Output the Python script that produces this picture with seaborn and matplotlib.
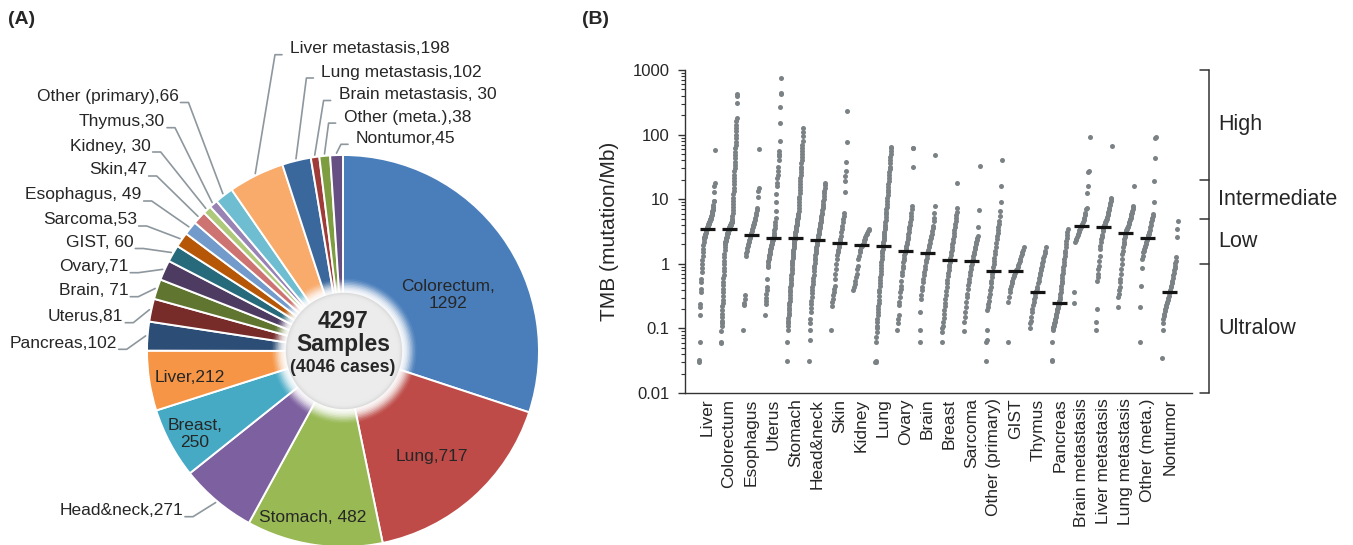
import numpy as np
import pandas as pd
import seaborn as sns
import matplotlib.pyplot as plt
from matplotlib.patches import Circle
from matplotlib.transforms import blended_transform_factory
from matplotlib.ticker import FixedLocator, FuncFormatter, LogLocator, NullFormatter

# ---------------- Panel A: samples per organ ----------------
pie_labels = ["Colorectum", "Lung", "Stomach", "Head&neck", "Breast", "Liver", "Pancreas",
              "Uterus", "Brain", "Ovary", "GIST", "Sarcoma", "Esophagus", "Skin", "Kidney",
              "Thymus", "Other (primary)", "Liver metastasis", "Lung metastasis",
              "Brain metastasis", "Other (meta.)", "Nontumor"]
pie_counts = [1292, 717, 482, 271, 250, 212, 102, 81, 71, 71, 60, 53, 49, 47, 30, 30, 66,
              198, 102, 30, 38, 45]
pie_colors = ["#4A7EBB", "#BE4B48", "#98B954", "#7D60A0", "#46AAC5", "#F69546", "#2C4D75",
              "#772C2A", "#5F7530", "#4D3B62", "#276A7C", "#B65708", "#729ACA", "#CD7371",
              "#AFC97A", "#9983B5", "#6FBDD1", "#F9AB6B", "#3A679C", "#9F3B38", "#7E9C40",
              "#664F83"]
total_samples = 4297
total_cases = 4046

# ---------------- Panel B: TMB per organ ----------------
tmb_cats = ["Liver", "Colorectum", "Esophagus", "Uterus", "Stomach", "Head&neck", "Skin",
            "Kidney", "Lung", "Ovary", "Brain", "Breast", "Sarcoma", "Other (primary)", "GIST",
            "Thymus", "Pancreas", "Brain metastasis", "Liver metastasis", "Lung metastasis",
            "Other (meta.)", "Nontumor"]
tmb_medians = [3.5, 3.4, 2.8, 2.5, 2.55, 2.35, 2.1, 1.95, 1.87, 1.6, 1.45, 1.15, 1.1, 0.78,
               0.77, 0.37, 0.25, 3.8, 3.65, 3.0, 2.55, 0.37]

tmb_liver = [0.03, 0.032, 0.062, 0.16, 0.215, 0.24, 0.37, 0.41, 0.52, 0.59, 0.74,
             0.85, 1.0, 1.15, 1.3, 1.5, 1.7, 1.95, 2.2, 2.4, 2.48, 2.56, 2.64, 2.72,
             2.8, 2.9, 3.0, 3.1, 3.2, 3.3, 3.4, 3.5, 3.6, 3.7, 3.8, 3.9, 4.0, 4.1,
             4.2, 4.3, 4.4, 4.5, 4.6, 4.7, 4.8, 4.9, 5.0, 5.15, 5.3, 5.45, 5.6, 5.8,
             6.0, 6.25, 6.5, 6.8, 7.1, 7.5, 8.0, 9.3, 9.5, 13, 16, 18, 57]
tmb_colorectum = [0.06, 0.062, 0.09, 0.11, 0.12,
                  0.13, 0.15, 0.17, 0.19, 0.22, 0.25, 0.28, 0.32, 0.36, 0.41, 0.47, 0.53,
                  0.6, 0.68, 0.77, 0.87, 1.0, 1.12, 1.27, 1.43, 1.62, 1.8,
                  2.0, 2.05, 2.1, 2.15, 2.2, 2.25, 2.3, 2.35, 2.4, 2.45, 2.5, 2.55, 2.6,
                  2.65, 2.7, 2.75, 2.8, 2.85, 2.9, 2.95, 3.0, 3.05, 3.1, 3.15, 3.2, 3.25,
                  3.3, 3.35, 3.4, 3.45, 3.5, 3.55, 3.6, 3.65, 3.7, 3.75, 3.8, 3.85, 3.9,
                  3.95, 4.0, 4.05, 4.1, 4.15, 4.2, 4.25, 4.3, 4.35, 4.4, 4.45, 4.5, 4.6,
                  4.7, 4.8, 5.0, 5.5, 6.1, 6.8, 7.6, 8.5, 9.5, 10.6, 12, 13.5, 15, 17, 19,
                  21.5, 24, 27, 30, 34, 38, 43, 48, 54, 61, 69, 78, 88, 100, 112, 126, 142,
                  160, 180, 310, 400, 420]
tmb_esophagus = [0.094, 0.23, 0.25, 0.29, 0.33, 1.3, 1.45, 1.6, 1.75, 1.9, 2.05, 2.2, 2.35,
                 2.5, 2.65, 2.8, 3.0, 3.2, 3.45, 3.7, 3.95, 4.2, 4.5, 4.8, 5.2, 5.6, 6.1,
                 6.7, 7.3, 11, 13.5, 15, 60]
tmb_uterus = [0.16, 0.24, 0.27, 0.3, 0.34, 0.39, 0.44, 0.59,
              0.9, 0.97, 1.05, 1.12, 1.2, 1.28, 1.36, 1.44, 1.52, 1.6, 1.68, 1.76, 1.84,
              1.92, 2.0, 2.08, 2.16, 2.24, 2.32, 2.4, 2.5, 2.6, 2.8, 3.0, 3.3, 3.6, 4.0,
              4.5, 5.2, 6.6, 8.9, 12, 16, 18, 21, 24, 27, 32, 41, 46, 50, 55, 79, 150,
              270, 420, 440, 740]
tmb_stomach = [0.031, 0.062, 0.094,
               0.11, 0.12, 0.13, 0.145, 0.16, 0.175, 0.19, 0.21, 0.23, 0.25, 0.27, 0.3,
               0.33, 0.36, 0.39, 0.43, 0.47, 0.51, 0.56, 0.61, 0.67, 0.73, 0.8, 0.87,
               0.95, 1.03, 1.12, 1.22, 1.32, 1.42, 1.52, 1.63, 1.75, 1.87, 2.0, 2.1, 2.2,
               2.3, 2.4, 2.5, 2.65, 2.8, 2.95, 3.1, 3.25, 3.4, 3.55, 3.7, 3.85, 4.0, 4.2,
               4.4, 4.6, 4.8, 5.0, 5.2, 5.4, 5.6, 5.8, 6.0, 6.6, 7.3, 8.1, 9, 10, 11,
               12.3, 13.7, 15.2, 17, 19, 21, 23.5, 26, 29, 32, 36, 40, 45, 50, 56, 62,
               70, 80, 95, 110, 126]
tmb_headneck = [0.031, 0.066, 0.094, 0.12, 0.14, 0.18, 0.21, 0.24, 0.27,
                0.31, 0.35, 0.39, 0.44, 0.49, 0.55, 0.61, 0.68, 0.76, 0.85, 0.94, 1.04,
                1.14, 1.25, 1.36, 1.48, 1.6, 1.72, 1.85, 1.98, 2.1, 2.22, 2.34, 2.45, 2.6,
                2.75, 2.9, 3.05, 3.2, 3.4, 3.6, 3.8, 4.0, 4.25, 4.5, 4.8, 5.1, 5.4, 5.8,
                6.2, 6.7, 7.2, 7.8, 8.5, 9.3, 10.2, 11.2, 12.3, 13.5, 15, 16.5, 17.5]
tmb_skin = [0.094, 0.22, 0.26, 0.29, 0.33, 0.37, 0.41, 0.46, 0.59, 0.7, 0.84, 1.0, 1.2,
            1.35, 1.5, 1.65, 1.8, 1.95, 2.1, 2.25, 2.4, 2.7, 3.1, 3.45, 3.9, 4.4, 4.9,
            5.5, 6.2, 12.7, 19, 23, 27, 37, 76, 230]
tmb_kidney = [0.39, 0.44, 0.49, 0.55, 0.62, 0.7, 0.84, 0.94, 1.2, 1.34, 1.5, 1.65, 1.8,
              1.9, 1.96, 2.05, 2.15, 2.3, 2.45, 2.6, 2.75, 2.9, 3.05, 3.2, 3.35, 3.45]
tmb_lung = [0.03, 0.03, 0.031, 0.062, 0.074, 0.089, 0.1, 0.11, 0.125, 0.14, 0.16, 0.18,
            0.2, 0.225, 0.25, 0.28, 0.32, 0.36, 0.4, 0.45, 0.5, 0.56, 0.63, 0.7, 0.78,
            0.87, 0.97, 1.08, 1.2, 1.32, 1.45, 1.58, 1.72, 1.87, 2.0, 2.15, 2.3, 2.5,
            2.7, 2.9, 3.15, 3.4, 3.7, 4.0, 4.4, 4.8, 5.3, 5.8, 6.4, 7.0, 7.7, 8.5, 9.4,
            10.4, 11.5, 12.7, 14, 15.5, 17, 19, 21, 23.5, 26, 29, 32, 36, 40, 45, 50,
            56, 62, 64]
tmb_ovary = [0.094, 0.12, 0.14, 0.16, 0.23, 0.26, 0.31, 0.37, 0.41, 0.46, 0.55, 0.66,
             0.74, 0.85, 0.94, 1.05, 1.15, 1.25, 1.35, 1.45, 1.55, 1.65, 1.75, 1.9, 2.05,
             2.2, 2.4, 2.6, 2.85, 3.1, 3.4, 3.7, 4.0, 4.4, 4.9, 5.5, 6.2, 7.0, 7.9, 31,
             62, 63]
tmb_brain = [0.062, 0.094, 0.18, 0.29, 0.33, 0.39, 0.44, 0.52, 0.59, 0.66, 0.74, 0.84,
             0.94, 1.05, 1.15, 1.25, 1.35, 1.45, 1.55, 1.65, 1.8, 1.95, 2.1, 2.3, 2.5,
             2.7, 2.9, 3.25, 3.6, 3.9, 4.6, 5.2, 6.2, 7.9, 49]
tmb_breast = [0.062, 0.089, 0.1, 0.11, 0.125, 0.145, 0.165, 0.19, 0.22, 0.25, 0.29, 0.33,
              0.38, 0.44, 0.5, 0.57, 0.65, 0.72, 0.8, 0.88, 0.96, 1.05, 1.15, 1.25, 1.35,
              1.5, 1.65, 1.8, 2.0, 2.2, 2.45, 2.7, 3.0, 3.3, 3.7, 4.1, 4.6, 5.1, 5.7,
              6.4, 7.2, 18]
tmb_sarcoma = [0.091, 0.127, 0.15, 0.18, 0.215, 0.26, 0.31, 0.345, 0.41, 0.47, 0.52, 0.58,
               0.66, 0.74, 0.84, 0.92, 1.0, 1.1, 1.2, 1.3, 1.42, 1.55, 1.7, 1.85, 2.0,
               2.15, 2.3, 2.5, 2.7, 3.66, 6.9, 33]
tmb_other_primary = [0.031, 0.062, 0.066, 0.094, 0.19, 0.215, 0.24, 0.27, 0.31, 0.345,
                     0.39, 0.44, 0.5, 0.55, 0.62, 0.7, 0.78, 0.89, 1.0, 1.1, 1.25, 1.4,
                     1.6, 1.8, 2.1, 2.4, 2.7, 3.0, 3.3, 3.7, 4.1, 4.6, 5.5, 6.6, 8.9, 16, 41]
tmb_gist = [0.062, 0.26, 0.31, 0.37, 0.41, 0.46, 0.5, 0.55, 0.6, 0.64, 0.68, 0.72, 0.76,
            0.8, 0.84, 0.89, 0.95, 1.02, 1.1, 1.2, 1.3, 1.4, 1.5, 1.65, 1.8]
tmb_thymus = [0.1, 0.12, 0.13, 0.15, 0.18, 0.2, 0.23, 0.26, 0.29, 0.31, 0.34, 0.36, 0.38,
              0.41, 0.44, 0.5, 0.55, 0.6, 0.66, 0.72, 0.79, 0.86, 0.94, 1.03, 1.12, 1.23,
              1.34, 1.47, 1.6, 1.8]
tmb_pancreas = [0.031, 0.033, 0.062, 0.094, 0.1, 0.105, 0.11, 0.115, 0.12, 0.125, 0.13,
                0.14, 0.15, 0.16, 0.17, 0.18, 0.19, 0.2, 0.21, 0.22, 0.23, 0.24, 0.25,
                0.27, 0.29, 0.31, 0.34, 0.37, 0.41, 0.46, 0.5, 0.55, 0.6, 0.66, 0.73, 0.8,
                0.88, 0.97, 1.07, 1.18, 1.3, 1.45, 1.6, 1.8, 2.0, 2.25, 2.5, 2.8, 3.1, 3.45]
tmb_brain_met = [0.25, 0.37, 2.15, 2.3, 2.45, 2.6, 2.75, 2.9, 3.1, 3.3, 3.5, 3.7, 3.8, 3.95,
                 4.1, 4.5, 4.8, 5.2, 5.6, 6.2, 7.0, 7.4, 12.6, 16, 26, 27, 92]
tmb_liver_met = [0.094, 0.127, 0.2, 0.55, 0.62, 0.7, 0.84, 0.94, 1.12, 1.34, 1.7, 1.9, 2.15,
                 2.4, 2.6, 2.8, 3.2, 3.4, 3.66, 3.8, 3.95, 4.1, 4.25, 4.4, 4.6, 4.8, 5.0,
                 5.3, 5.6, 6.0, 6.4, 6.9, 7.4, 8.0, 8.6, 9.3, 10, 10.6, 67]
tmb_lung_met = [0.215, 0.31, 0.345, 0.39, 0.44, 0.52, 0.59, 0.7, 0.84, 1.0, 1.2, 1.4, 1.6,
                1.8, 2.0, 2.2, 2.4, 2.6, 2.8, 3.0, 3.15, 3.3, 3.45, 3.6, 3.75, 3.9, 4.1,
                4.3, 4.5, 4.7, 4.9, 5.2, 5.5, 5.8, 6.2, 6.6, 7.0, 7.5, 7.9, 16]
tmb_other_meta = [0.062, 0.215, 0.46, 0.86, 1.2, 1.34, 1.5, 1.6, 1.7, 1.8, 1.9, 2.0, 2.15,
                  2.3, 2.45, 2.6, 2.75, 2.9, 3.1, 3.35, 3.66, 4.0, 4.4, 4.8, 5.2, 5.5, 5.9,
                  8.9, 19, 44, 89, 92]
tmb_nontumor = [0.035, 0.094, 0.12, 0.14, 0.155, 0.17, 0.185, 0.2, 0.215, 0.23, 0.245,
                0.26, 0.28, 0.3, 0.32, 0.35, 0.37, 0.4, 0.43, 0.46, 0.5, 0.55, 0.6, 0.66,
                0.72, 0.79, 0.86, 0.94, 1.03, 1.12, 1.27, 2.6, 3.45, 4.6]

tmb_values = [tmb_liver, tmb_colorectum, tmb_esophagus, tmb_uterus, tmb_stomach,
              tmb_headneck, tmb_skin, tmb_kidney, tmb_lung, tmb_ovary, tmb_brain, tmb_breast,
              tmb_sarcoma, tmb_other_primary, tmb_gist, tmb_thymus, tmb_pancreas,
              tmb_brain_met, tmb_liver_met, tmb_lung_met, tmb_other_meta, tmb_nontumor]

# TMB category cut-offs (mutation/Mb) and their names
tmb_bins = [1000, 20, 5, 1, 0.01]
tmb_bin_names = ["High", "Intermediate", "Low", "Ultralow"]

# ---------------- style ----------------
sns.set_theme(style="white")
plt.rcParams["font.family"] = ["Liberation Sans", "DejaVu Sans"]
txt_col = "#262626"
lead_col = "#8d979d"

W, H = 1353, 545
fig = plt.figure(figsize=(W / 100, H / 100), dpi=100)

# ---------------- Panel A ----------------
cx, cy, R = 343, 351, 196      # pie centre / radius in pixels
half = 250
ax_a = fig.add_axes([(cx - half) / W, 1 - (cy + half) / H, 2 * half / W, 2 * half / H])
wedges, _ = ax_a.pie(pie_counts, colors=pie_colors, startangle=90, counterclock=False,
                     wedgeprops=dict(edgecolor="white", linewidth=1.4))
lim = half / R
ax_a.set_xlim(-lim, lim)
ax_a.set_ylim(-lim, lim)
ax_a.set_aspect("equal")
ax_a.axis("off")


def to_pie(px, py):
    return (px - cx) / R, (cy - py) / R


spaced = {"GIST", "Brain", "Kidney", "Esophagus", "Stomach", "Brain metastasis"}


def pie_text(name, count, newline=False):
    if newline:
        return f"{name},\n{count}"
    return f"{name},{' ' if name in spaced else ''}{count}"


inside = {"Colorectum": (447.5, 295, True), "Lung": (432, 457, False),
          "Stomach": (313, 518, False), "Breast": (195, 434, True),
          "Liver": (189.5, 377, False)}
outside = {"Other (primary)": (178.5, 96.5, "L"), "Thymus": (165, 121.7, "L"),
           "Kidney": (150.7, 146, "L"), "Skin": (146.7, 170, "L"),
           "Esophagus": (141.7, 195, "L"), "Sarcoma": (136.7, 220, "L"),
           "GIST": (133.3, 242.5, "L"), "Ovary": (128.3, 266.7, "L"),
           "Brain": (128.3, 290.7, "L"), "Uterus": (123.3, 316.7, "L"),
           "Pancreas": (116.7, 343.3, "L"), "Head&neck": (183, 510.7, "L"),
           "Liver metastasis": (290, 48.7, "T"), "Lung metastasis": (321.4, 72, "T"),
           "Brain metastasis": (338.6, 94.5, "T"), "Other (meta.)": (343.6, 117.1, "T"),
           "Nontumor": (356, 138.3, "T")}

for w, name, cnt in zip(wedges, pie_labels, pie_counts):
    if name in inside:
        px, py, nl = inside[name]
        x, y = to_pie(px, py)
        ax_a.text(x, y, pie_text(name, cnt, nl), ha="center", va="center",
                  fontsize=12.5, color=txt_col, linespacing=1.15, zorder=6)
        continue
    px, py, side = outside[name]
    ang = np.deg2rad((w.theta1 + w.theta2) / 2)
    end = (np.cos(ang) * 1.01, np.sin(ang) * 1.01)
    x, y = to_pie(px, py)
    if side == "L":
        ax_a.text(x, y, pie_text(name, cnt), ha="right", va="center", fontsize=12.5,
                  color=txt_col)
        p0 = to_pie(px + 2, py + 6)
        p1 = to_pie(px + 10, py + 6)
    else:
        ax_a.text(x, y, pie_text(name, cnt), ha="left", va="center", fontsize=12.5,
                  color=txt_col)
        p0 = to_pie(px - 8, py + 6)
        p1 = to_pie(px - 15, py + 6)
    ax_a.plot([p0[0], p1[0], end[0]], [p0[1], p1[1], end[1]], color=lead_col, lw=1.2,
              clip_on=False, solid_joinstyle="round")

# centre disc with a soft halo
cc = to_pie(344, 351)
halo_r = np.linspace(0.37, 0.30, 10)
for k, r in enumerate(halo_r):
    ax_a.add_patch(Circle(cc, r, facecolor="white", edgecolor="none",
                          alpha=0.06 + 0.05 * k, zorder=3))
ax_a.add_patch(Circle(cc, 0.297, facecolor="#dcdcdc", edgecolor="none", zorder=4))
for k, r in enumerate(np.linspace(0.292, 0.268, 6)):
    ax_a.add_patch(Circle(cc, r, facecolor="#ececec", edgecolor="none",
                          alpha=0.35 + 0.13 * k, zorder=4))
x, y = to_pie(343, 322)
ax_a.text(x, y, f"{total_samples}", ha="center", va="center", fontsize=16.5,
          fontweight="bold", color=txt_col, zorder=6)
x, y = to_pie(343, 345)
ax_a.text(x, y, "Samples", ha="center", va="center", fontsize=16.5, fontweight="bold",
          color=txt_col, zorder=6)
x, y = to_pie(343, 368)
ax_a.text(x, y, f"({total_cases} cases)", ha="center", va="center", fontsize=12.7,
          fontweight="bold", color=txt_col, zorder=6)

fig.text(8 / W, 1 - 20 / H, "(A)", fontsize=14, fontweight="bold", va="center",
         color=txt_col)
fig.text(582 / W, 1 - 20 / H, "(B)", fontsize=14, fontweight="bold", va="center",
         color=txt_col)

# ---------------- Panel B ----------------
left_px, right_px, top_px, bot_px = 685, 1192, 70, 393
ax_b = fig.add_axes([left_px / W, 1 - bot_px / H, (right_px - left_px) / W,
                     (bot_px - top_px) / H])

spread = 0.72
frames = []
for i, (cat, vals) in enumerate(zip(tmb_cats, tmb_values)):
    v = np.sort(np.asarray(vals, dtype=float))
    off = (np.arange(len(v)) / (len(v) - 1) - 0.5) * spread
    frames.append(pd.DataFrame({"cat": cat, "tmb": v, "x": i + off}))
df = pd.concat(frames, ignore_index=True)

sns.scatterplot(data=df, x="x", y="tmb", color="#7b8285", s=13, linewidth=0,
                legend=False, ax=ax_b, zorder=2)
pos = np.arange(len(tmb_cats))
ax_b.hlines(tmb_medians, pos - 0.34, pos + 0.34, color="#141414", lw=2.3, zorder=3)

ax_b.set_yscale("log")
ax_b.set_ylim(0.01, 1000)
ax_b.set_xlim(-1, len(tmb_cats))
ax_b.set_xticks(pos)
ax_b.set_xticklabels(tmb_cats, rotation=90, fontsize=12.5, color=txt_col)
ax_b.tick_params(axis="x", length=0, pad=4)
ax_b.yaxis.set_major_locator(FixedLocator([0.01, 0.1, 1, 10, 100, 1000]))
ax_b.yaxis.set_major_formatter(FuncFormatter(lambda v, p: f"{v:g}"))
ax_b.yaxis.set_minor_locator(LogLocator(base=10, subs=np.arange(2, 10), numticks=20))
ax_b.yaxis.set_minor_formatter(NullFormatter())
ax_b.tick_params(axis="y", which="major", left=True, direction="out", length=5, width=1,
                 labelsize=12, pad=6, color="#333333", labelcolor=txt_col)
ax_b.tick_params(axis="y", which="minor", left=True, direction="out", length=3, width=0.8,
                 color="#333333")
ax_b.set_xlabel("")
ax_b.set_ylabel("TMB (mutation/Mb)", fontsize=15, color=txt_col)
ax_b.yaxis.set_label_coords((619 - left_px) / (right_px - left_px), 0.5)
for s in ["top", "right"]:
    ax_b.spines[s].set_visible(False)
for s in ["left", "bottom"]:
    ax_b.spines[s].set_color("#333333")
    ax_b.spines[s].set_linewidth(1.0)

# TMB class bracket on the right
span = right_px - left_px
tr = blended_transform_factory(ax_b.transAxes, ax_b.transData)
bx = (1209 - left_px) / span
tx = (1200 - left_px) / span
ax_b.plot([bx, bx], [tmb_bins[-1], tmb_bins[0]], transform=tr, color="#333333", lw=1.1,
          clip_on=False)
for b in tmb_bins:
    ax_b.plot([tx, bx], [b, b], transform=tr, color="#333333", lw=1.1, clip_on=False)
for name, hi, lo in zip(tmb_bin_names, tmb_bins[:-1], tmb_bins[1:]):
    ax_b.text((1218 - left_px) / span, np.sqrt(hi * lo), name, transform=tr,
              ha="left", va="center", fontsize=15.5, color=txt_col)

fig.savefig("out.png", dpi=100)
